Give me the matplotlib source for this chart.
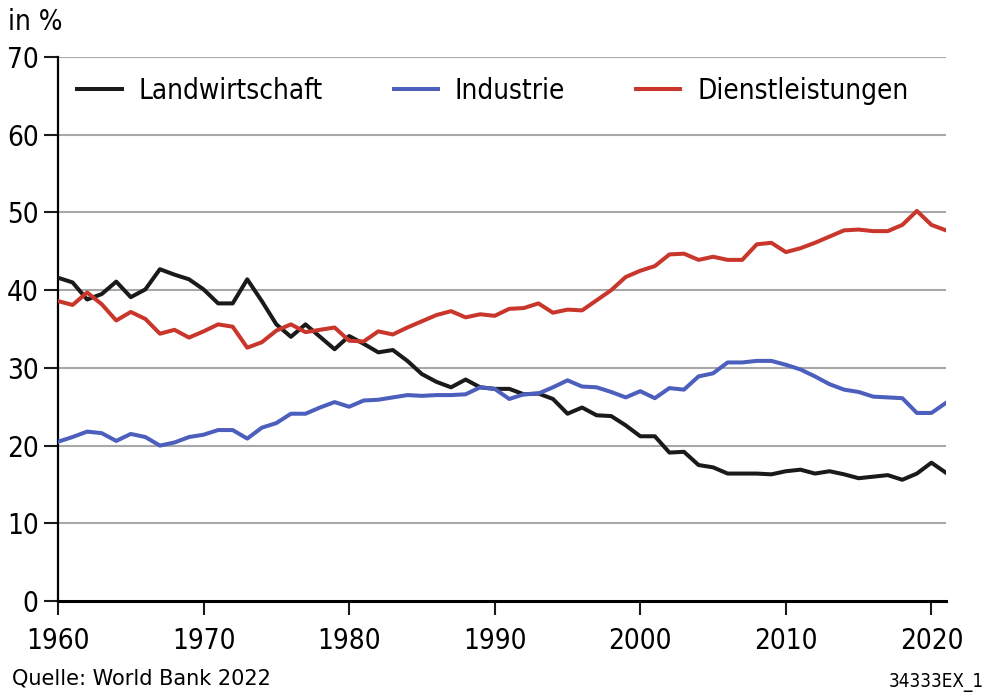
import numpy as np
import matplotlib.pyplot as plt

plt.rcParams['font.family'] = ['DejaVu Sans']
plt.rcParams['font.stretch'] = 'condensed'

# Jahre 1960-2021
years = np.arange(1960, 2022)

# Anteil der Beschaeftigten in %
landwirtschaft = [41.6, 41.0, 38.8, 39.5, 41.1, 39.1, 40.1, 42.7, 42.0, 41.4,
                  40.1, 38.3, 38.3, 41.4, 38.6, 35.6, 34.0, 35.6, 34.0, 32.4,
                  34.1, 33.1, 32.0, 32.3, 30.9, 29.2, 28.2, 27.5, 28.5, 27.5,
                  27.3, 27.3, 26.6, 26.7, 26.0, 24.1, 24.9, 23.9, 23.8, 22.6,
                  21.2, 21.2, 19.1, 19.2, 17.5, 17.2, 16.4, 16.4, 16.4, 16.3,
                  16.7, 16.9, 16.4, 16.7, 16.3, 15.8, 16.0, 16.2, 15.6, 16.4,
                  17.8, 16.5]
industrie = [20.5, 21.1, 21.8, 21.6, 20.6, 21.5, 21.1, 20.0, 20.4, 21.1,
             21.4, 22.0, 22.0, 20.9, 22.3, 22.9, 24.1, 24.1, 24.9, 25.6,
             25.0, 25.8, 25.9, 26.2, 26.5, 26.4, 26.5, 26.5, 26.6, 27.5,
             27.3, 26.0, 26.6, 26.7, 27.5, 28.4, 27.6, 27.5, 26.9, 26.2,
             27.0, 26.1, 27.4, 27.2, 28.9, 29.3, 30.7, 30.7, 30.9, 30.9,
             30.4, 29.8, 28.9, 27.9, 27.2, 26.9, 26.3, 26.2, 26.1, 24.2,
             24.2, 25.5]
dienstleistungen = [38.6, 38.1, 39.7, 38.2, 36.1, 37.2, 36.3, 34.4, 34.9, 33.9,
                    34.7, 35.6, 35.3, 32.6, 33.3, 34.8, 35.6, 34.6, 34.9, 35.2,
                    33.5, 33.4, 34.7, 34.3, 35.2, 36.0, 36.8, 37.3, 36.5, 36.9,
                    36.7, 37.6, 37.7, 38.3, 37.1, 37.5, 37.4, 38.7, 40.0, 41.7,
                    42.5, 43.1, 44.6, 44.7, 43.9, 44.3, 43.9, 43.9, 45.9, 46.1,
                    44.9, 45.4, 46.1, 46.9, 47.7, 47.8, 47.6, 47.6, 48.4, 50.2,
                    48.4, 47.7]

fig = plt.figure(figsize=(10, 6.96), dpi=100)
ax = fig.add_axes([0.058, 0.1365, 0.888, 0.7815])

for v in range(10, 80, 10):
    ax.axhline(v, color='#a8a8a8', lw=1.5, zorder=1)

ax.plot(years, landwirtschaft, color='#1a1a1a', lw=2.9, label='Landwirtschaft', zorder=3)
ax.plot(years, industrie, color='#4d5fbd', lw=2.9, label='Industrie', zorder=3)
ax.plot(years, dienstleistungen, color='#c9372c', lw=2.9, label='Dienstleistungen', zorder=3)

ax.set_xlim(1960, 2021)
ax.set_ylim(0, 70)
ax.set_xticks(range(1960, 2021, 10))
ax.set_yticks(range(0, 71, 10))
ax.tick_params(axis='both', labelsize=20, width=1.5, length=10, color='#1a1a1a')
ax.tick_params(axis='x', pad=9)
ax.tick_params(axis='y', pad=4)

for s in ['top', 'right']:
    ax.spines[s].set_visible(False)
ax.spines['left'].set_linewidth(1.6)
ax.spines['bottom'].set_linewidth(2.2)

ax.legend(loc='upper left', bbox_to_anchor=(0.0, 1.0), ncol=3, frameon=False,
          fontsize=20, handlelength=1.6, columnspacing=2.55, handletextpad=0.6,
          borderaxespad=0.3)

fig.text(0.008, 0.948, 'in %', fontsize=20, va='bottom')
fig.text(0.012, 0.017, 'Quelle: World Bank 2022', fontsize=15, va='baseline',
         fontstretch='normal')
fig.text(0.984, 0.013, '34333EX_1', fontsize=13.5, ha='right', va='baseline')

fig.savefig('out.png', dpi=100)
